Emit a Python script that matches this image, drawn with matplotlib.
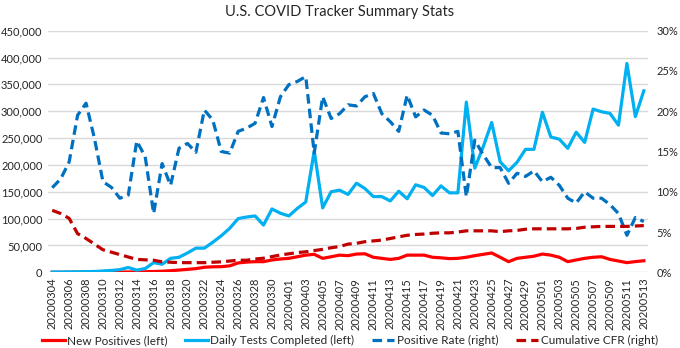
import matplotlib
matplotlib.use('Agg')
import matplotlib.pyplot as plt
from matplotlib.ticker import FuncFormatter, PercentFormatter
import numpy as np
import pandas as pd

plt.rcParams['font.family'] = ['Lato', 'DejaVu Sans']

# daily series, 4 Mar -> 13 May 2020
DATES = pd.date_range('2020-03-04', '2020-05-13').strftime('%Y%m%d').tolist()

# counts in thousands
NEW_POSITIVES = [0.05, 0.05, 0.1, 0.1, 0.15, 0.2, 0.3, 0.4, 0.5, 0.6, 0.7, 1.0,
                 1.5, 2.0, 3.0, 4.2, 5.5, 6.9, 9.4, 10.3, 10.5, 12, 17.5, 19,
                 19.8, 19.8, 23, 24.8,
                 26, 29, 32, 33.5, 26, 29, 32, 31, 34, 34.5, 28, 26, 24, 26,
                 32, 32, 32, 28, 27, 25.5, 26, 28, 31, 33.5, 36, 28, 19.8, 26,
                 28, 30,
                 34, 32, 28, 19.8, 23, 26, 28, 29, 24, 21, 18, 20, 21.5]
DAILY_TESTS = [0.5, 0.6, 0.8, 1, 1.2, 1.5, 2.5, 3.5, 5, 9, 4, 7,
               18, 15, 26, 28, 36, 45, 45, 56, 68, 82, 100, 103,
               105, 88, 118, 110,
               105, 119, 131, 226, 120, 150, 153, 145, 166, 156, 141, 141,
               133, 151, 137, 163, 158, 143, 161, 148, 148, 317, 194, 234,
               279, 206, 189, 205, 229, 229,
               298, 252, 248, 231, 261, 242, 304, 299, 296, 274, 389, 290, 338]

# rates in percent
POSITIVE_RATE = [10.5, 11.6, 13.7, 19.5, 21.0, 16.6, 11.25, 10.55, 9.2, 9.6,
                 16.3, 14.35, 7.3, 13.5, 10.8, 15.4, 16.0, 14.9, 20.15, 18.9,
                 15.0, 14.8, 17.5, 17.9, 18.5, 21.7, 18.1, 21.8,
                 23.3, 23.7, 24.3, 14.8, 21.8, 19.1, 19.7, 20.8, 20.65, 21.8,
                 22.2, 19.7, 18.7, 17.5, 22.0, 19.3, 20.15, 19.5, 17.3, 17.2,
                 17.5, 9.4, 16.4, 14.6, 13.0, 13.0, 11.05, 12.3, 11.9, 12.6,
                 11.25, 11.8, 10.8, 9.2, 8.6, 10.0, 9.2, 9.2, 8.4, 7.3, 4.6,
                 6.8, 6.3]
CUMULATIVE_CFR = [7.7, 7.3, 6.7, 4.8, 4.2, 3.5, 2.8, 2.5, 2.2, 1.9, 1.6, 1.55,
                  1.5, 1.3, 1.25, 1.2, 1.2, 1.2, 1.2, 1.25, 1.3, 1.4, 1.5, 1.5,
                  1.65, 1.75, 1.95, 2.15,
                  2.3, 2.45, 2.55, 2.7, 2.85, 3.05, 3.2, 3.5, 3.6, 3.8, 3.9,
                  4.0, 4.2, 4.4, 4.6, 4.7, 4.75, 4.85, 4.9, 4.9, 5.0, 5.15,
                  5.15, 5.15, 5.15, 5.05, 5.15, 5.2, 5.35, 5.4,
                  5.4, 5.4, 5.4, 5.4, 5.45, 5.6, 5.65, 5.7, 5.7, 5.7, 5.7,
                  5.75, 5.8]

RED = '#FF0000'
LIGHT_BLUE = '#00B0F0'
BLUE = '#0070C0'
DARK_RED = '#C00000'
TEXT = '#262626'
LW = 2.3
DASH = (3, 1.6)

x = np.arange(len(DATES))

fig = plt.figure(figsize=(6.8, 3.48), dpi=100)
ax = fig.add_axes([0.0706, 0.2175, 0.8824, 0.6943])
ax2 = ax.twinx()

l1, = ax.plot(x, np.array(NEW_POSITIVES) * 1000, color=RED, lw=LW,
              label='New Positives (left)')
l2, = ax.plot(x, np.array(DAILY_TESTS) * 1000, color=LIGHT_BLUE, lw=LW,
              label='Daily Tests Completed (left)')
l3, = ax2.plot(x, POSITIVE_RATE, color=BLUE, lw=LW, dashes=DASH,
               label='Positive Rate (right)')
l4, = ax2.plot(x, CUMULATIVE_CFR, color=DARK_RED, lw=LW, dashes=DASH,
               label='Cumulative CFR (right)')

ax.set_xlim(-0.5, len(DATES) - 0.5)
ax.set_ylim(0, 450000)
ax.set_yticks(np.arange(0, 450001, 50000))
ax.yaxis.set_major_formatter(FuncFormatter(lambda v, p: '{:,.0f}'.format(v)))
ax2.set_ylim(0, 30)
ax2.set_yticks(np.arange(0, 31, 5))
ax2.yaxis.set_major_formatter(PercentFormatter(xmax=100, decimals=0))

ax.set_xticks(x[::2])
ax.set_xticklabels(DATES[::2], rotation=90)

ax.grid(axis='y', color='#D9D9D9', lw=1)
ax.set_axisbelow(True)
for a in (ax, ax2):
    for s in a.spines.values():
        s.set_visible(False)
    a.tick_params(length=0, labelsize=8, colors=TEXT)
ax.tick_params(axis='y', pad=4)
ax2.tick_params(axis='y', pad=6)
ax.tick_params(axis='x', pad=4)

fig.suptitle('U.S. COVID Tracker Summary Stats', x=0.5, y=0.985,
             fontsize=10.5, color=TEXT)

fig.legend(handles=[l1, l2, l3, l4], loc='lower center', ncol=4,
           frameon=False, fontsize=8.5, handlelength=1.9, handletextpad=0.2,
           columnspacing=1.5, bbox_to_anchor=(0.515, -0.025),
           labelcolor=TEXT)

fig.savefig('out.png', dpi=100)
